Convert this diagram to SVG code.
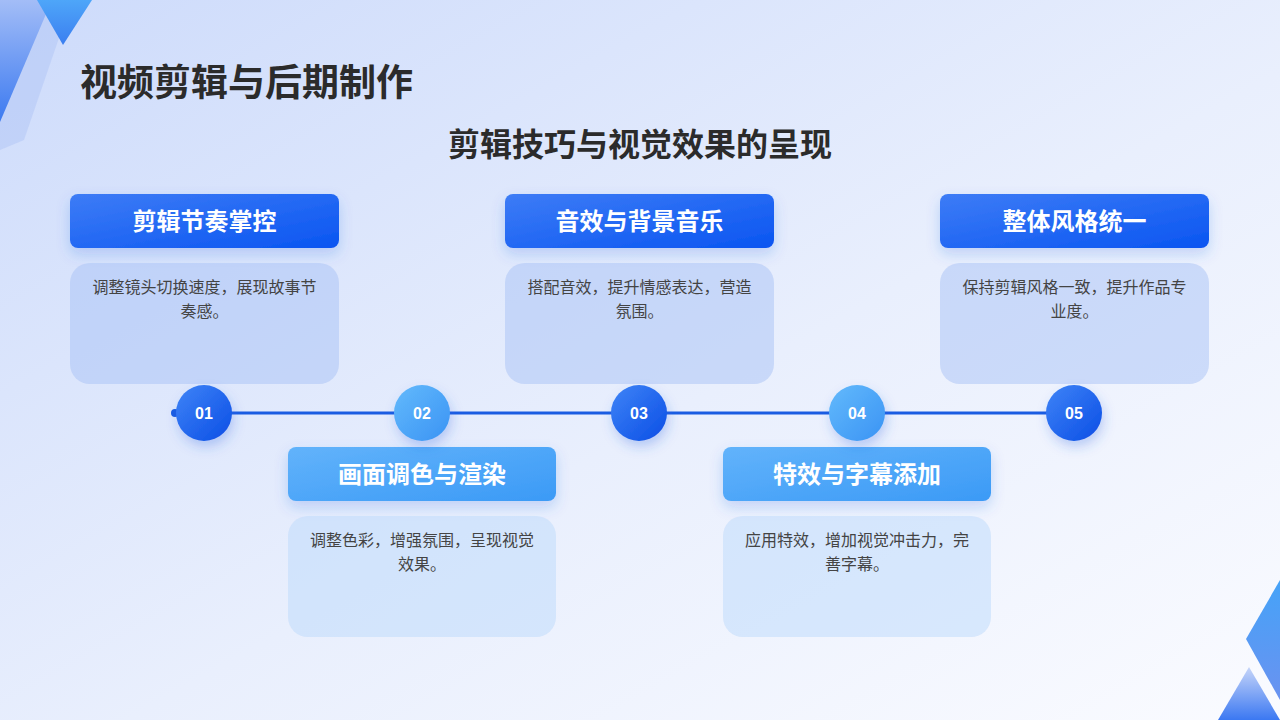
<svg xmlns="http://www.w3.org/2000/svg" width="1280" height="720" viewBox="0 0 1280 720">
<defs>
<linearGradient id="bg" x1="0" y1="0" x2="1" y2="1">
<stop offset="0" stop-color="#cddbfb"/>
<stop offset="0.55" stop-color="#e9effd"/>
<stop offset="1" stop-color="#fafbff"/>
</linearGradient>
<linearGradient id="hdDark" x1="0" y1="0" x2="1" y2="1">
<stop offset="0" stop-color="#3d7cf6"/>
<stop offset="1" stop-color="#0a55f1"/>
</linearGradient>
<linearGradient id="hdLight" x1="0" y1="0" x2="1" y2="1">
<stop offset="0" stop-color="#62b3fb"/>
<stop offset="1" stop-color="#3b9af6"/>
</linearGradient>
<linearGradient id="cDark" x1="0" y1="0" x2="1" y2="1">
<stop offset="0" stop-color="#3f84f7"/>
<stop offset="1" stop-color="#0b4ee5"/>
</linearGradient>
<linearGradient id="cLight" x1="0" y1="0" x2="1" y2="1">
<stop offset="0" stop-color="#63bafc"/>
<stop offset="1" stop-color="#3a93f4"/>
</linearGradient>
<linearGradient id="tri1" x1="0" y1="0" x2="0" y2="1">
<stop offset="0" stop-color="#4ea6f9"/>
<stop offset="1" stop-color="#3b7ef0"/>
</linearGradient>
<linearGradient id="wedge" x1="0" y1="0" x2="0" y2="1">
<stop offset="0" stop-color="#a3bdf7"/>
<stop offset="1" stop-color="#3c7af0"/>
</linearGradient>
<linearGradient id="br1" x1="0" y1="0" x2="0" y2="1">
<stop offset="0" stop-color="#45a3f8"/>
<stop offset="1" stop-color="#6a92f0"/>
</linearGradient>
<linearGradient id="br2" x1="0" y1="0" x2="0" y2="1">
<stop offset="0" stop-color="#c6d5f9"/>
<stop offset="1" stop-color="#3b78f2"/>
</linearGradient>
<filter id="sh" x="-20%" y="-30%" width="140%" height="180%">
<feDropShadow dx="0" dy="6" stdDeviation="7" flood-color="#2a62e0" flood-opacity="0.22"/>
</filter>
<filter id="shc" x="-50%" y="-50%" width="200%" height="200%">
<feDropShadow dx="2" dy="6" stdDeviation="6" flood-color="#2a62e0" flood-opacity="0.28"/>
</filter>
</defs>
<style>
.title{font-family:"Noto Sans CJK SC","Noto Sans",sans-serif;font-weight:700;fill:#2b2b2b}
.hd{font-family:"Noto Sans CJK SC","Noto Sans",sans-serif;font-weight:700;font-size:24px;fill:#ffffff;text-anchor:middle}
.bd{font-family:"Noto Sans CJK SC","Noto Sans",sans-serif;font-size:16px;fill:#444444;text-anchor:middle}
.num{font-family:"Liberation Sans",Roboto,sans-serif;font-weight:700;font-size:16px;fill:#ffffff;text-anchor:middle}
.bodyTop{fill:#a8c2f6;fill-opacity:0.5}
.bodyBot{fill:#bcd9fb;fill-opacity:0.5}
</style>
<rect x="0" y="0" width="1280" height="720" fill="url(#bg)"/>
<g id="decor">
<polygon points="0,0 72,0 24,140 0,150" fill="#b2c6f6" fill-opacity="0.55"/>
<polygon points="0,0 52,0 0,122" fill="url(#wedge)"/>
<polygon points="37,0 92,0 63,45" fill="url(#tri1)"/>
<polygon points="1280,580 1246,639 1280,700" fill="url(#br1)"/>
<polygon points="1249,667 1218,720 1280,720" fill="url(#br2)"/>
</g>
<text class="title" x="80" y="96" font-size="37">视频剪辑与后期制作</text>
<text class="title" x="640" y="156" font-size="32" text-anchor="middle">剪辑技巧与视觉效果的呈现</text>
<g id="connectors">
<line x1="175" y1="413" x2="1074" y2="413" stroke="#1a5ce2" stroke-width="3"/>
<circle cx="175" cy="413" r="4" fill="#1a5ce2"/>
</g>
<g id="card1">
<rect x="70" y="194" width="269" height="54" rx="8" fill="url(#hdDark)" filter="url(#sh)"/>
<text class="hd" x="204.500" y="230">剪辑节奏掌控</text>
<rect class="bodyTop" x="70" y="263" width="269" height="121" rx="20"/>
<text class="bd" x="204.500" y="293">调整镜头切换速度，展现故事节</text>
<text class="bd" x="204.500" y="317">奏感。</text>
</g>
<g id="card2">
<rect x="288" y="447" width="268" height="54" rx="8" fill="url(#hdLight)" filter="url(#sh)"/>
<text class="hd" x="422" y="483">画面调色与渲染</text>
<rect class="bodyBot" x="288" y="516" width="268" height="121" rx="20"/>
<text class="bd" x="422" y="546">调整色彩，增强氛围，呈现视觉</text>
<text class="bd" x="422" y="570">效果。</text>
</g>
<g id="card3">
<rect x="505" y="194" width="269" height="54" rx="8" fill="url(#hdDark)" filter="url(#sh)"/>
<text class="hd" x="639.500" y="230">音效与背景音乐</text>
<rect class="bodyTop" x="505" y="263" width="269" height="121" rx="20"/>
<text class="bd" x="639.500" y="293">搭配音效，提升情感表达，营造</text>
<text class="bd" x="639.500" y="317">氛围。</text>
</g>
<g id="card4">
<rect x="723" y="447" width="268" height="54" rx="8" fill="url(#hdLight)" filter="url(#sh)"/>
<text class="hd" x="857" y="483">特效与字幕添加</text>
<rect class="bodyBot" x="723" y="516" width="268" height="121" rx="20"/>
<text class="bd" x="857" y="546">应用特效，增加视觉冲击力，完</text>
<text class="bd" x="857" y="570">善字幕。</text>
</g>
<g id="card5">
<rect x="940" y="194" width="269" height="54" rx="8" fill="url(#hdDark)" filter="url(#sh)"/>
<text class="hd" x="1074.500" y="230">整体风格统一</text>
<rect class="bodyTop" x="940" y="263" width="269" height="121" rx="20"/>
<text class="bd" x="1074.500" y="293">保持剪辑风格一致，提升作品专</text>
<text class="bd" x="1074.500" y="317">业度。</text>
</g>
<g id="step1"><circle cx="204" cy="413" r="28" fill="url(#cDark)" filter="url(#shc)"/><text class="num" x="204" y="419">01</text></g>
<g id="step2"><circle cx="422" cy="413" r="28" fill="url(#cLight)" filter="url(#shc)"/><text class="num" x="422" y="419">02</text></g>
<g id="step3"><circle cx="639" cy="413" r="28" fill="url(#cDark)" filter="url(#shc)"/><text class="num" x="639" y="419">03</text></g>
<g id="step4"><circle cx="857" cy="413" r="28" fill="url(#cLight)" filter="url(#shc)"/><text class="num" x="857" y="419">04</text></g>
<g id="step5"><circle cx="1074" cy="413" r="28" fill="url(#cDark)" filter="url(#shc)"/><text class="num" x="1074" y="419">05</text></g>
</svg>
